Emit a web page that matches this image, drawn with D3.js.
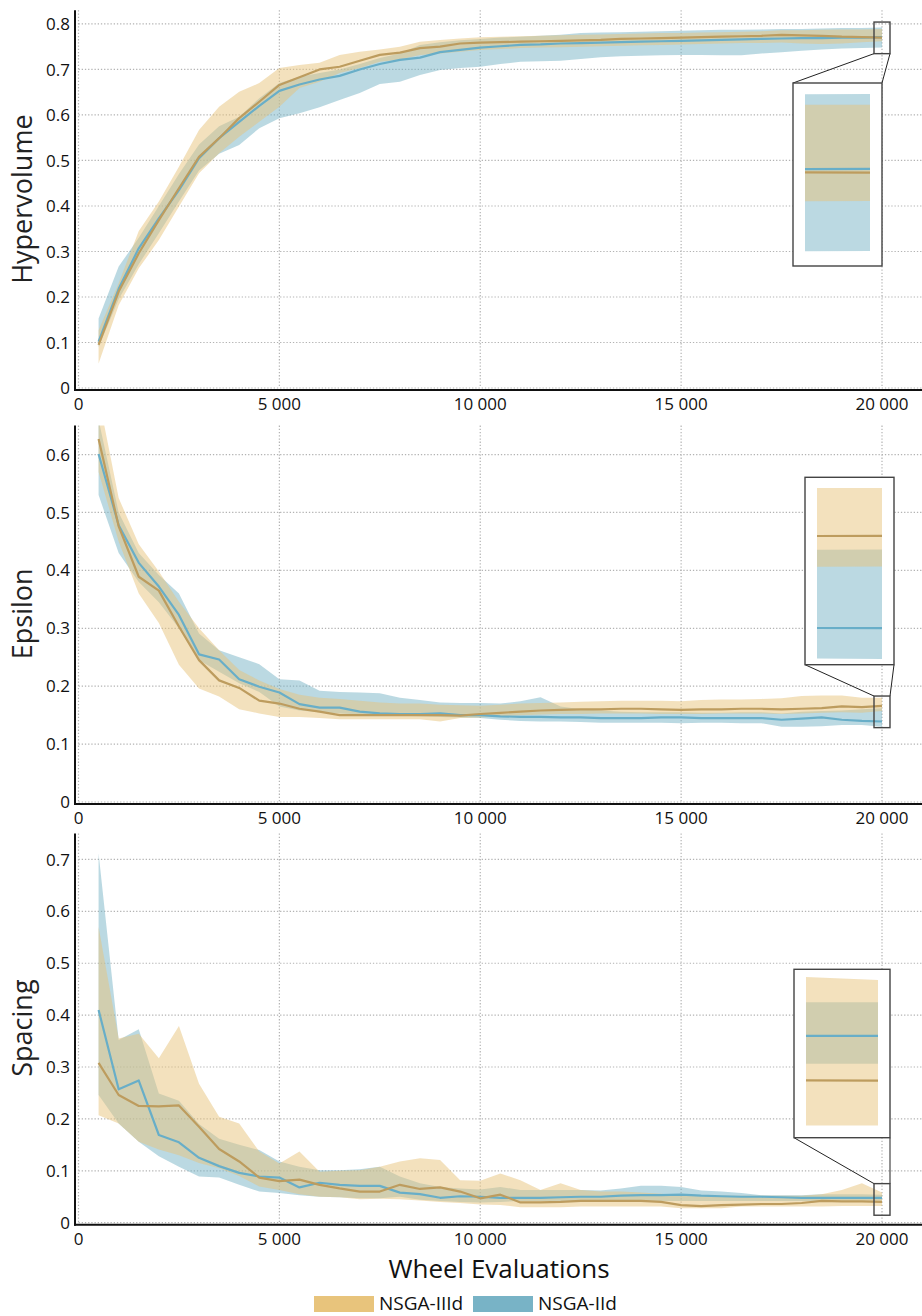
<!DOCTYPE html>
<html>
<head>
<meta charset="utf-8">
<script src="https://cdn.jsdelivr.net/npm/d3@7"></script>
<style>
  html, body { margin: 0; padding: 0; background: #fff; }
  svg { display: block; font-family: "Open Sans", "Noto Sans", sans-serif; }
</style>
</head>
<body>
<svg id="chart" width="922" height="1316"></svg>
<script>
// ---- data -------------------------------------------------------------
const evaluations = [500, 1000, 1500, 2000, 2500, 3000, 3500, 4000, 4500, 5000,
  5500, 6000, 6500, 7000, 7500, 8000, 8500, 9000, 9500, 10000,
  10500, 11000, 11500, 12000, 12500, 13000, 13500, 14000, 14500, 15000,
  15500, 16000, 16500, 17000, 17500, 18000, 18500, 19000, 19500, 20000];

const seriesNames = ["NSGA-IIId", "NSGA-IId"];

// Hypervolume
const hvN3Mean = [0.095, 0.212, 0.296, 0.369, 0.439, 0.508, 0.549, 0.593, 0.629, 0.666,
  0.683, 0.700, 0.706, 0.719, 0.732, 0.737, 0.747, 0.750, 0.757, 0.759,
  0.760, 0.761, 0.762, 0.763, 0.764, 0.765, 0.767, 0.768, 0.769, 0.770,
  0.771, 0.772, 0.773, 0.774, 0.776, 0.775, 0.774, 0.772, 0.771, 0.770];
const hvN3Low = [0.054, 0.182, 0.263, 0.325, 0.399, 0.472, 0.516, 0.552, 0.585, 0.618,
  0.659, 0.673, 0.692, 0.703, 0.717, 0.722, 0.732, 0.735, 0.739, 0.743,
  0.745, 0.747, 0.748, 0.749, 0.750, 0.751, 0.752, 0.753, 0.754, 0.755,
  0.756, 0.757, 0.758, 0.758, 0.759, 0.757, 0.756, 0.757, 0.760, 0.762];
const hvN3High = [0.127, 0.230, 0.345, 0.410, 0.486, 0.567, 0.618, 0.651, 0.670, 0.703,
  0.710, 0.715, 0.732, 0.739, 0.744, 0.750, 0.761, 0.765, 0.768, 0.771,
  0.772, 0.773, 0.774, 0.775, 0.776, 0.777, 0.778, 0.779, 0.780, 0.780,
  0.781, 0.782, 0.783, 0.784, 0.786, 0.786, 0.787, 0.788, 0.788, 0.789];
const hvN2Mean = [0.102, 0.218, 0.307, 0.373, 0.435, 0.505, 0.549, 0.585, 0.620, 0.653,
  0.667, 0.678, 0.686, 0.700, 0.712, 0.721, 0.726, 0.738, 0.743, 0.748,
  0.751, 0.754, 0.755, 0.757, 0.758, 0.759, 0.760, 0.761, 0.762, 0.763,
  0.764, 0.765, 0.766, 0.767, 0.768, 0.769, 0.769, 0.770, 0.770, 0.771];
const hvN2Low = [0.090, 0.195, 0.272, 0.340, 0.410, 0.478, 0.515, 0.534, 0.571, 0.593,
  0.604, 0.617, 0.633, 0.648, 0.668, 0.673, 0.688, 0.699, 0.703, 0.706,
  0.712, 0.717, 0.718, 0.719, 0.723, 0.727, 0.729, 0.730, 0.731, 0.732,
  0.732, 0.731, 0.731, 0.735, 0.738, 0.741, 0.744, 0.746, 0.747, 0.748];
const hvN2High = [0.153, 0.267, 0.330, 0.400, 0.470, 0.535, 0.575, 0.596, 0.637, 0.670,
  0.684, 0.692, 0.700, 0.712, 0.725, 0.735, 0.754, 0.760, 0.764, 0.767,
  0.770, 0.772, 0.774, 0.776, 0.780, 0.781, 0.782, 0.783, 0.784, 0.785,
  0.786, 0.787, 0.787, 0.788, 0.789, 0.789, 0.790, 0.791, 0.791, 0.792];

// Epsilon
const epN3Mean = [0.627, 0.476, 0.389, 0.365, 0.303, 0.245, 0.210, 0.197, 0.175, 0.170,
  0.161, 0.156, 0.150, 0.150, 0.150, 0.150, 0.150, 0.150, 0.149, 0.152,
  0.154, 0.156, 0.158, 0.159, 0.160, 0.160, 0.161, 0.161, 0.160, 0.159,
  0.160, 0.160, 0.161, 0.161, 0.160, 0.161, 0.162, 0.165, 0.164, 0.166];
const epN3Low = [0.570, 0.450, 0.360, 0.309, 0.237, 0.196, 0.182, 0.160, 0.153, 0.147,
  0.147, 0.145, 0.143, 0.143, 0.143, 0.143, 0.143, 0.139, 0.145, 0.146,
  0.148, 0.150, 0.151, 0.152, 0.152, 0.153, 0.153, 0.153, 0.152, 0.152,
  0.152, 0.153, 0.153, 0.153, 0.152, 0.153, 0.154, 0.155, 0.154, 0.157];
const epN3High = [0.700, 0.525, 0.445, 0.398, 0.346, 0.300, 0.262, 0.228, 0.210, 0.195,
  0.185, 0.180, 0.178, 0.175, 0.172, 0.170, 0.170, 0.168, 0.167, 0.166,
  0.168, 0.170, 0.171, 0.172, 0.173, 0.174, 0.175, 0.175, 0.175, 0.174,
  0.176, 0.177, 0.177, 0.178, 0.179, 0.183, 0.184, 0.184, 0.180, 0.180];
const epN2Mean = [0.601, 0.478, 0.413, 0.372, 0.323, 0.255, 0.246, 0.212, 0.199, 0.189,
  0.169, 0.163, 0.163, 0.156, 0.153, 0.152, 0.152, 0.153, 0.150, 0.150,
  0.148, 0.147, 0.147, 0.146, 0.146, 0.145, 0.145, 0.145, 0.146, 0.146,
  0.145, 0.145, 0.145, 0.145, 0.142, 0.144, 0.146, 0.142, 0.140, 0.139];
const epN2Low = [0.530, 0.430, 0.380, 0.345, 0.300, 0.245, 0.225, 0.205, 0.190, 0.165,
  0.158, 0.155, 0.153, 0.151, 0.150, 0.149, 0.148, 0.147, 0.146, 0.145,
  0.142, 0.140, 0.139, 0.139, 0.138, 0.137, 0.137, 0.137, 0.137, 0.136,
  0.137, 0.137, 0.136, 0.136, 0.130, 0.130, 0.131, 0.133, 0.133, 0.130];
const epN2High = [0.660, 0.500, 0.430, 0.392, 0.360, 0.291, 0.262, 0.250, 0.238, 0.212,
  0.210, 0.192, 0.190, 0.189, 0.188, 0.180, 0.176, 0.172, 0.171, 0.171,
  0.170, 0.174, 0.181, 0.165, 0.160, 0.158, 0.156, 0.155, 0.155, 0.155,
  0.154, 0.154, 0.155, 0.155, 0.153, 0.156, 0.157, 0.158, 0.160, 0.162];

// Spacing
const spN3Mean = [0.308, 0.246, 0.225, 0.224, 0.226, 0.185, 0.142, 0.118, 0.087, 0.080,
  0.083, 0.073, 0.066, 0.060, 0.060, 0.073, 0.065, 0.068, 0.060, 0.047,
  0.054, 0.039, 0.039, 0.040, 0.042, 0.042, 0.042, 0.042, 0.040, 0.034,
  0.032, 0.034, 0.035, 0.036, 0.036, 0.038, 0.042, 0.041, 0.041, 0.040];
const spN3Low = [0.207, 0.191, 0.156, 0.141, 0.130, 0.115, 0.105, 0.090, 0.070, 0.063,
  0.055, 0.050, 0.049, 0.045, 0.046, 0.045, 0.043, 0.040, 0.038, 0.035,
  0.034, 0.030, 0.030, 0.030, 0.031, 0.031, 0.031, 0.031, 0.031, 0.028,
  0.028, 0.028, 0.031, 0.031, 0.031, 0.031, 0.031, 0.032, 0.032, 0.032];
const spN3High = [0.570, 0.355, 0.364, 0.317, 0.379, 0.268, 0.204, 0.191, 0.137, 0.114,
  0.137, 0.098, 0.100, 0.101, 0.108, 0.118, 0.124, 0.121, 0.082, 0.081,
  0.095, 0.082, 0.063, 0.076, 0.063, 0.060, 0.060, 0.058, 0.056, 0.052,
  0.052, 0.052, 0.052, 0.052, 0.052, 0.052, 0.055, 0.063, 0.076, 0.058];
const spN2Mean = [0.410, 0.257, 0.274, 0.169, 0.155, 0.125, 0.109, 0.096, 0.089, 0.087,
  0.068, 0.077, 0.073, 0.071, 0.071, 0.058, 0.055, 0.048, 0.051, 0.050,
  0.048, 0.048, 0.048, 0.049, 0.050, 0.050, 0.052, 0.053, 0.053, 0.054,
  0.052, 0.051, 0.050, 0.050, 0.049, 0.048, 0.048, 0.048, 0.048, 0.048];
const spN2Low = [0.246, 0.191, 0.156, 0.128, 0.108, 0.089, 0.087, 0.073, 0.060, 0.057,
  0.053, 0.050, 0.049, 0.047, 0.047, 0.050, 0.044, 0.042, 0.040, 0.039,
  0.040, 0.042, 0.042, 0.042, 0.042, 0.042, 0.042, 0.042, 0.042, 0.042,
  0.042, 0.042, 0.042, 0.042, 0.042, 0.042, 0.042, 0.043, 0.043, 0.043];
const spN2High = [0.712, 0.352, 0.373, 0.249, 0.235, 0.190, 0.162, 0.150, 0.140, 0.118,
  0.108, 0.101, 0.101, 0.103, 0.108, 0.089, 0.076, 0.069, 0.066, 0.064,
  0.069, 0.063, 0.063, 0.063, 0.063, 0.062, 0.066, 0.071, 0.071, 0.069,
  0.062, 0.060, 0.057, 0.053, 0.053, 0.053, 0.055, 0.055, 0.055, 0.054];

// tick values and labels
const xTicks = [0, 5000, 10000, 15000, 20000];
const xTickLabels = ["0", "5 000", "10 000", "15 000", "20 000"];
const hvTicks = [0, 0.1, 0.2, 0.3, 0.4, 0.5, 0.6, 0.7, 0.8];
const epTicks = [0, 0.1, 0.2, 0.3, 0.4, 0.5, 0.6];
const spTicks = [0, 0.1, 0.2, 0.3, 0.4, 0.5, 0.6, 0.7];

// ---- styling ----------------------------------------------------------
const fillColor = { n3: "#e8c47c", n2: "#78b3c6" };
const lineColor = { n3: "#bd9c5e", n2: "#68aec8" };
const bandOpacity = 0.5;

// ---- layout -----------------------------------------------------------
const svg = d3.select("#chart");
const W = 922;
const xLeft = 78.5, xRight = 882;
const axisX = 75;

const x = d3.scaleLinear().domain([0, 20000]).range([xLeft, xRight]);

const panels = [
  {
    title: "Hypervolume", ticks: hvTicks, yMax: 0.83, top: 10.3, bottom: 388,
    n3: { mean: hvN3Mean, low: hvN3Low, high: hvN3High },
    n2: { mean: hvN2Mean, low: hvN2Low, high: hvN2High },
    inset: { x: 793, y: 83, w: 89, h: 183, dom: [0.7438, 0.7951], link: "below" }
  },
  {
    title: "Epsilon", ticks: epTicks, yMax: 0.65, top: 425.6, bottom: 802,
    n3: { mean: epN3Mean, low: epN3Low, high: epN3High },
    n2: { mean: epN2Mean, low: epN2Low, high: epN2High },
    inset: { x: 805, y: 477.3, w: 89, h: 187.4, dom: [0.1283, 0.1831], link: "above" }
  },
  {
    title: "Spacing", ticks: spTicks, yMax: 0.75, top: 833.5, bottom: 1222.7,
    n3: { mean: spN3Mean, low: spN3Low, high: spN3High },
    n2: { mean: spN2Mean, low: spN2Low, high: spN2High },
    inset: { x: 794, y: 969.3, w: 96, h: 168.4, dom: [0.0298, 0.0599], link: "above" }
  }
];

const fmtY = d => d === 0 ? "0" : d3.format(".1f")(d);
const defs = svg.append("defs");

function drawSeries(g, xs, ys, s, key) {
  const rows = evaluations.map((e, i) => ({ e, m: s.mean[i], lo: s.low[i], hi: s.high[i] }));
  const area = d3.area().x(d => xs(d.e)).y0(d => ys(d.lo)).y1(d => ys(d.hi));
  g.append("path").datum(rows).attr("d", area)
    .attr("fill", fillColor[key]).attr("fill-opacity", bandOpacity);
}
function drawLine(g, xs, ys, s, key) {
  const rows = evaluations.map((e, i) => ({ e, m: s.mean[i] }));
  const line = d3.line().x(d => xs(d.e)).y(d => ys(d.m));
  g.append("path").datum(rows).attr("d", line)
    .attr("fill", "none").attr("stroke", lineColor[key])
    .attr("stroke-width", 2.2).attr("stroke-linejoin", "round");
}

panels.forEach((p, pi) => {
  const y = d3.scaleLinear().domain([0, p.yMax]).range([p.bottom, p.top]);
  const g = svg.append("g");

  // dotted grid
  const grid = g.append("g").attr("stroke", "#b3b3b3").attr("stroke-width", 1.2)
    .attr("stroke-dasharray", "1.3 1.9");
  grid.selectAll("line.h").data(p.ticks).join("line")
    .attr("x1", xLeft).attr("x2", W).attr("y1", d => y(d)).attr("y2", d => y(d));
  grid.selectAll("line.v").data(xTicks).join("line")
    .attr("x1", d => x(d)).attr("x2", d => x(d)).attr("y1", p.top).attr("y2", p.bottom);

  // plot clip
  const clipId = "clip" + pi;
  defs.append("clipPath").attr("id", clipId).append("rect")
    .attr("x", axisX).attr("y", p.top).attr("width", W - axisX).attr("height", p.bottom - p.top);
  const plot = g.append("g").attr("clip-path", `url(#${clipId})`);
  drawSeries(plot, x, y, p.n2, "n2");
  drawSeries(plot, x, y, p.n3, "n3");
  drawLine(plot, x, y, p.n2, "n2");
  drawLine(plot, x, y, p.n3, "n3");

  // axis lines
  g.append("line").attr("x1", axisX).attr("x2", axisX).attr("y1", p.top).attr("y2", p.bottom + 3)
    .attr("stroke", "#111").attr("stroke-width", 2);
  g.append("line").attr("x1", axisX - 1).attr("x2", W).attr("y1", p.bottom + 2).attr("y2", p.bottom + 2)
    .attr("stroke", "#111").attr("stroke-width", 2);

  // tick labels
  g.selectAll("text.yt").data(p.ticks).join("text")
    .attr("x", 70).attr("y", d => y(d)).attr("dy", "0.36em")
    .attr("text-anchor", "end").attr("font-size", 17).attr("fill", "#111")
    .text(fmtY);
  g.selectAll("text.xt").data(xTicks).join("text")
    .attr("x", d => x(d)).attr("y", p.bottom + 22)
    .attr("text-anchor", "middle").attr("font-size", 17).attr("fill", "#111")
    .text((d, i) => xTickLabels[i]);

  // axis title
  g.append("text")
    .attr("transform", `translate(32,${(p.top + p.bottom) / 2}) rotate(-90)`)
    .attr("text-anchor", "middle").attr("font-size", 27).attr("fill", "#222")
    .text(p.title);

  // zoom marker around the final evaluation and its magnified inset
  const ins = p.inset;
  const midVal = (ins.dom[0] + ins.dom[1]) / 2;
  const bw = 16, bh = 31.6;
  const bx = x(20000) - bw / 2, by = y(midVal) - bh / 2;

  const links = g.append("g").attr("stroke", "#222").attr("stroke-width", 1);
  if (ins.link === "below") {
    links.append("line").attr("x1", bx).attr("y1", by + bh).attr("x2", ins.x).attr("y2", ins.y);
    links.append("line").attr("x1", bx + bw).attr("y1", by + bh).attr("x2", ins.x + ins.w).attr("y2", ins.y);
  } else {
    links.append("line").attr("x1", bx).attr("y1", by).attr("x2", ins.x).attr("y2", ins.y + ins.h);
    links.append("line").attr("x1", bx + bw).attr("y1", by).attr("x2", ins.x + ins.w).attr("y2", ins.y + ins.h);
  }
  g.append("rect").attr("x", bx).attr("y", by).attr("width", bw).attr("height", bh)
    .attr("fill", "none").attr("stroke", "#444").attr("stroke-width", 1.4);

  g.append("rect").attr("x", ins.x).attr("y", ins.y).attr("width", ins.w).attr("height", ins.h)
    .attr("fill", "#fff").attr("stroke", "#444").attr("stroke-width", 1.4);

  const padX = 12;
  const ix = d3.scaleLinear().domain([19985, 20000]).range([ins.x + padX, ins.x + ins.w - padX]);
  const iy = d3.scaleLinear().domain(ins.dom).range([ins.y + ins.h, ins.y]);
  const iclip = "iclip" + pi;
  defs.append("clipPath").attr("id", iclip).append("rect")
    .attr("x", ins.x + padX).attr("y", ins.y + 1).attr("width", ins.w - 2 * padX).attr("height", ins.h - 2);
  const ig = g.append("g").attr("clip-path", `url(#${iclip})`);
  drawSeries(ig, ix, iy, p.n2, "n2");
  drawSeries(ig, ix, iy, p.n3, "n3");
  drawLine(ig, ix, iy, p.n2, "n2");
  drawLine(ig, ix, iy, p.n3, "n3");
});

// shared x-axis title
svg.append("text").attr("x", 499).attr("y", 1278)
  .attr("text-anchor", "middle").attr("font-size", 26).attr("fill", "#111")
  .text("Wheel Evaluations");

// legend
const legend = svg.append("g").attr("transform", "translate(314,1296)");
const legendItems = [
  { name: seriesNames[0], key: "n3", dx: 0 },
  { name: seriesNames[1], key: "n2", dx: 159 }
];
legendItems.forEach(it => {
  legend.append("rect").attr("x", it.dx).attr("y", 0).attr("width", 60).attr("height", 16)
    .attr("fill", fillColor[it.key]);
  legend.append("text").attr("x", it.dx + 65).attr("y", 14)
    .attr("font-size", 19).attr("fill", "#111").text(it.name);
});
</script>
</body>
</html>
